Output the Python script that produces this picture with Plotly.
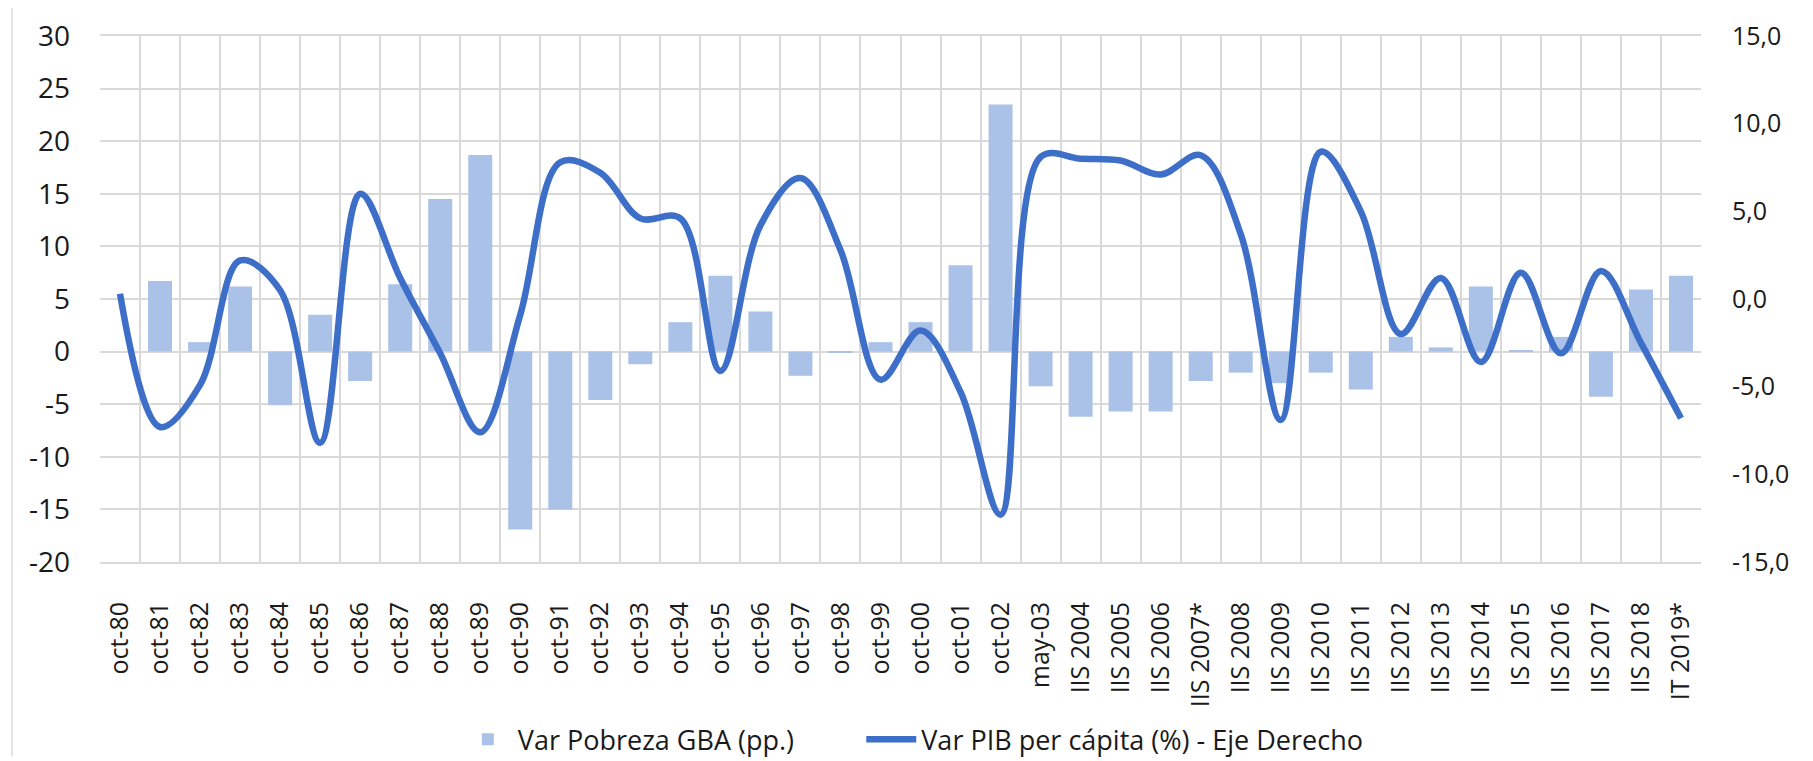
import plotly.graph_objects as go

categories = ["oct-80", "oct-81", "oct-82", "oct-83", "oct-84", "oct-85", "oct-86", "oct-87",
              "oct-88", "oct-89", "oct-90", "oct-91", "oct-92", "oct-93", "oct-94", "oct-95",
              "oct-96", "oct-97", "oct-98", "oct-99", "oct-00", "oct-01", "oct-02", "may-03",
              "IIS 2004", "IIS 2005", "IIS 2006", "IIS 2007*", "IIS 2008", "IIS 2009",
              "IIS 2010", "IIS 2011", "IIS 2012", "IIS 2013", "IIS 2014", "IS 2015",
              "IIS 2016", "IIS 2017", "IIS 2018", "IT 2019*"]

pobreza = [0.0, 6.7, 0.9, 6.2, -5.1, 3.5, -2.8, 6.4, 14.5, 18.7,
           -16.9, -15.0, -4.6, -1.2, 2.8, 7.2, 3.8, -2.3, -0.1, 0.9,
           2.8, 8.2, 23.5, -3.3, -6.2, -5.7, -5.7, -2.8, -2.0, -3.0,
           -2.0, -3.6, 1.4, 0.4, 6.2, 0.1, 1.4, -4.3, 5.9, 7.2]

pib = [0.3, -7.3, -4.9, 2.2, 0.5, -8.2, 6.0, 1.2, -3.1, -7.6,
       -0.9, 7.8, 7.2, 4.6, 4.6, -4.1, 4.2, 6.9, 2.8, -4.6,
       -1.8, -5.3, -12.3, 8.1, 8.0, 7.9, 7.1, 8.2, 3.7, -6.9,
       8.4, 5.0, -2.0, 1.2, -3.6, 1.5, -3.1, 1.6, -2.5, -6.8]

left_ticks = [-20, -15, -10, -5, 0, 5, 10, 15, 20, 25, 30]
left_labels = ["-20", "-15", "-10", "-5", "0", "5", "10", "15", "20", "25", "30"]
right_ticks = [-15, -10, -5, 0, 5, 10, 15]
right_labels = ["-15,0", "-10,0", "-5,0", "0,0", "5,0", "10,0", "15,0"]

font_family = "'Open Sans', sans-serif"
text_color = "#1a1a1a"
grid_color = "#D9D9D9"

fig = go.Figure()
fig.add_trace(go.Bar(
    x=categories, y=pobreza, name="Var Pobreza GBA (pp.)",
    marker=dict(color="#ABC2E8", line=dict(width=0)),
    yaxis="y", legend="legend", showlegend=True,
))
fig.add_trace(go.Scatter(
    x=categories, y=pib, name="Var PIB per cápita (%) - Eje Derecho",
    mode="lines", line=dict(color="#3D6FC8", width=6.5, shape="spline", smoothing=1.0),
    yaxis="y2", legend="legend2", showlegend=True,
))

legend_common = dict(
    orientation="h", yanchor="middle", y=-0.338, xanchor="left",
    font=dict(size=27, color=text_color), itemwidth=50,
    bgcolor="rgba(0,0,0,0)", visible=True,
)

# the page body adds an 8px offset, margins compensate so the plot area sits at x 100-1701, y 36-562
fig.update_layout(
    width=1813, height=761,
    paper_bgcolor="white", plot_bgcolor="white",
    margin=dict(l=92, r=120, t=28, b=207, autoexpand=False),
    showlegend=True,
    bargap=0.4,
    font=dict(family=font_family, size=26, color=text_color),
    xaxis=dict(
        type="category", tickson="boundaries", tickangle=-90,
        showgrid=True, gridcolor=grid_color, gridwidth=2,
        ticks="", showline=True, linecolor=grid_color, linewidth=2, mirror=True,
        tickfont=dict(size=25, color=text_color),
        range=[-0.5, 39.5], automargin=False, ticklabelstandoff=28,
    ),
    yaxis=dict(
        range=[-20, 30], tickmode="array", tickvals=left_ticks, ticktext=left_labels,
        showgrid=True, gridcolor=grid_color, gridwidth=2,
        zeroline=False, showline=False, ticks="",
        tickfont=dict(size=28, color=text_color),
        automargin=False, ticklabelstandoff=29,
    ),
    yaxis2=dict(
        range=[-15, 15], tickmode="array", tickvals=right_ticks, ticktext=right_labels,
        overlaying="y", side="right", showgrid=False, zeroline=False,
        ticks="", tickfont=dict(size=25, color=text_color),
        automargin=False, ticklabelstandoff=30,
    ),
    legend=dict(x=0.2235, **legend_common),
    legend2=dict(x=0.4755, **legend_common),
    shapes=[dict(type="line", xref="paper", yref="paper", x0=-0.055, x1=-0.055,
                 y0=-0.37, y1=1.06, line=dict(color="#E3E3E3", width=2))],
)

fig.write_html("out.html")
